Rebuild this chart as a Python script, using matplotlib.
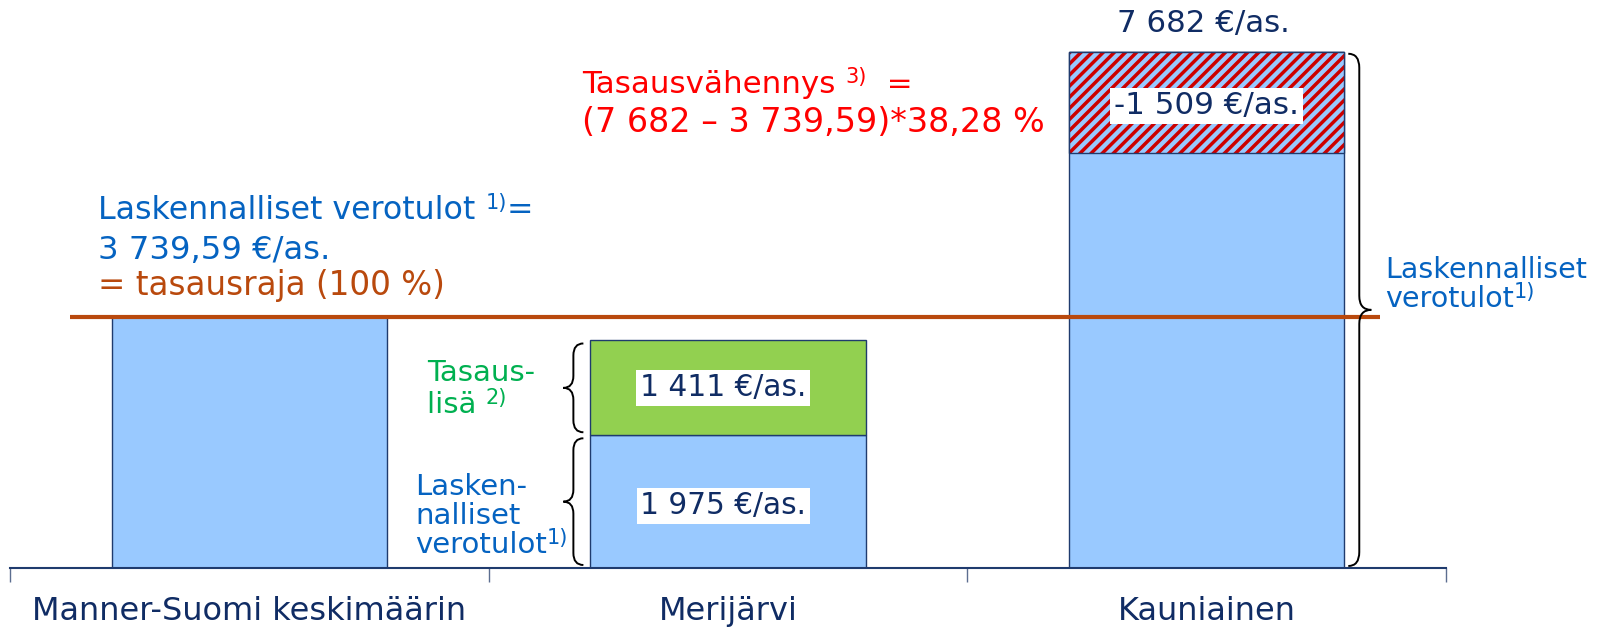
import matplotlib
matplotlib.use("Agg")
import matplotlib.pyplot as plt
from matplotlib.path import Path
from matplotlib.patches import PathPatch

# ---------------- data ----------------
categories = ["Manner-Suomi keskimäärin", "Merijärvi", "Kauniainen"]
laskennalliset = [3739.59, 1975, 7682]      # laskennalliset verotulot €/as.
tasauslisa = [0, 1411, 0]                    # tasauslisä €/as.
tasausvahennys = [0, 0, -1509]               # tasausvähennys €/as.
tasausraja = 3739.59
vahennys_pct = 38.28

# ---------------- style ----------------
plt.rcParams["font.family"] = ["DejaVu Sans"]
plt.rcParams["hatch.linewidth"] = 2.5
BLUE_BAR = "#99C9FF"
GREEN_BAR = "#92D050"
EDGE = "#1F3B6E"
NAVY = "#102C64"
TXT_BLUE = "#0563C1"
ORANGE = "#B9490D"
RED = "#FF0000"
HATCH_RED = "#CC0000"
GREEN_TXT = "#00B050"

W, H = 1620, 629
fig = plt.figure(figsize=(W / 100, H / 100), dpi=100)
ax = fig.add_axes([10 / W, (H - 568) / H, 1436 / W, 568 / H])
ax.set_xlim(0, 3)
ax.set_ylim(0, 8452)

x = [0.5, 1.5, 2.5]
bw = 0.575


def fmt(v):
    s = f"{abs(int(round(v))):,}".replace(",", " ")
    return ("-" if v < 0 else "") + s + " €/as."


def fmt_dec(v):
    ip = int(v)
    dec = round((v - ip) * 100)
    return f"{ip:,}".replace(",", " ") + f",{dec:02d}"


# base bars (laskennalliset verotulot)
ax.bar(x, laskennalliset, width=bw, color=BLUE_BAR, edgecolor=EDGE, linewidth=1.0, zorder=2)
# tasauslisä on top
ax.bar(x, tasauslisa, width=bw, bottom=laskennalliset, color=GREEN_BAR, edgecolor=EDGE,
       linewidth=1.0, zorder=2)
# tasausvähennys as hatched top section
vb = [l + v for l, v in zip(laskennalliset, tasausvahennys)]
vh = [-v for v in tasausvahennys]
ax.bar(x, vh, width=bw, bottom=vb, color=BLUE_BAR, edgecolor=HATCH_RED, hatch="///",
       linewidth=0, zorder=2)
ax.bar([xx for xx, h in zip(x, vh) if h > 0], [h for h in vh if h > 0], width=bw,
       bottom=[b for b, h in zip(vb, vh) if h > 0], fill=False, edgecolor=EDGE,
       linewidth=1.0, zorder=3)

# tasausraja line
ax.plot([0.125, 2.862], [tasausraja, tasausraja], color=ORANGE, linewidth=3.0,
        solid_capstyle="butt", zorder=4)

# axes styling
for s in ["left", "top", "right"]:
    ax.spines[s].set_visible(False)
ax.spines["bottom"].set_color(EDGE)
ax.spines["bottom"].set_linewidth(1.5)
ax.set_yticks([])
ax.set_xticks(x, categories)
ax.set_xticks([0, 1, 2, 3], minor=True)
ax.tick_params(axis="x", which="major", length=0, pad=20, labelsize=23, labelcolor=NAVY)
ax.tick_params(axis="x", which="minor", length=10, width=1.0, color="#5C6E90", direction="out")

# value labels
box = dict(boxstyle="square,pad=0.12", fc="white", ec="none")
ax.text(x[1] - 0.01, laskennalliset[1] / 2 - 60, fmt(laskennalliset[1]), ha="center",
        va="center", fontsize=21.3, color=NAVY, bbox=box, zorder=5)
ax.text(x[1] - 0.01, laskennalliset[1] + tasauslisa[1] / 2, fmt(tasauslisa[1]), ha="center",
        va="center", fontsize=21.3, color=NAVY, bbox=box, zorder=5)
ax.text(x[2], vb[2] + vh[2] / 2 - 50, fmt(tasausvahennys[2]), ha="center",
        va="center", fontsize=22.3, color=NAVY, bbox=box, zorder=5)

fig.canvas.draw()
renderer = fig.canvas.get_renderer()


def ftext(px, py, s, fs, **kw):
    return fig.text(px / W, 1 - py / H, s, va="baseline", fontsize=fs, **kw)


def rich(px, py, parts, color):
    """parts: list of (text, fontsize, rise_px)"""
    cx = px
    for s, fs, rise in parts:
        t = ftext(cx, py - rise, s, fs, color=color)
        cx += t.get_window_extent(renderer).width


SUP = 15
RISE = 10

# top total label
ftext(1203, 32, fmt(laskennalliset[2]), 22.2, ha="center", color=NAVY)

# left annotation
rich(98, 219, [("Laskennalliset verotulot ", 22.8, 0), ("1)", SUP, RISE), ("=", 22.8, 0)],
     TXT_BLUE)
ftext(98, 259, fmt_dec(tasausraja) + " €/as.", 23.2, color=TXT_BLUE)
ftext(98, 295, "= tasausraja (100 %)", 23.5, color=ORANGE)

# red annotation
rich(582, 93, [("Tasausvähennys ", 22.3, 0), ("3)", SUP, RISE), ("  =", 22.3, 0)], RED)
ftext(582, 132, f"(7 682 – {fmt_dec(tasausraja)})*{str(vahennys_pct).replace('.', ',')} %",
      24, color=RED)

# Merijärvi annotations
ftext(427, 381, "Tasaus-", 21, color=GREEN_TXT)
rich(427, 413, [("lisä ", 21, 0), ("2)", SUP, RISE - 1)], GREEN_TXT)
ftext(415, 495, "Lasken-", 21, color=TXT_BLUE)
ftext(415, 524, "nalliset", 21, color=TXT_BLUE)
rich(415, 553, [("verotulot", 21, 0), ("1)", SUP, RISE - 1)], TXT_BLUE)

# Kauniainen annotation
ftext(1385, 278, "Laskennalliset", 20.5, color=TXT_BLUE)
rich(1385, 307, [("verotulot", 20.5, 0), ("1)", SUP, RISE - 1)], TXT_BLUE)


# curly braces (drawn in display pixels, anchored to data)
def brace(xd, y0d, y1d, side, inset=3, e=4, l=15, p=27, r=12):
    X0, Y0 = ax.transData.transform((xd, y0d))
    _, Y1 = ax.transData.transform((xd, y1d))
    Y0 += inset
    Y1 -= inset
    sgn = 1 if side == "right" else -1
    xe = X0 + sgn * e
    xl = X0 + sgn * l
    xp = X0 + sgn * p
    ym = (Y0 + Y1) / 2
    verts = [(xe, Y1), (xl, Y1), (xl, Y1 - r), (xl, ym + r), (xl, ym), (xp, ym),
             (xl, ym), (xl, ym - r), (xl, Y0 + r), (xl, Y0), (xe, Y0)]
    codes = [Path.MOVETO, Path.CURVE3, Path.CURVE3, Path.LINETO, Path.CURVE3, Path.CURVE3,
             Path.CURVE3, Path.CURVE3, Path.LINETO, Path.CURVE3, Path.CURVE3]
    patch = PathPatch(Path(verts, codes), fill=False, edgecolor="black", linewidth=1.4,
                      transform=None, zorder=6)
    fig.add_artist(patch)


brace(x[2] + bw / 2, 0, laskennalliset[2], "right", inset=2, e=4, l=15, p=27, r=14)
brace(x[1] - bw / 2, laskennalliset[1], laskennalliset[1] + tasauslisa[1], "left",
      inset=3, e=7, l=17, p=27, r=12)
brace(x[1] - bw / 2, 0, laskennalliset[1], "left", inset=3, e=7, l=17, p=27, r=12)

fig.savefig("out.png", dpi=100)
